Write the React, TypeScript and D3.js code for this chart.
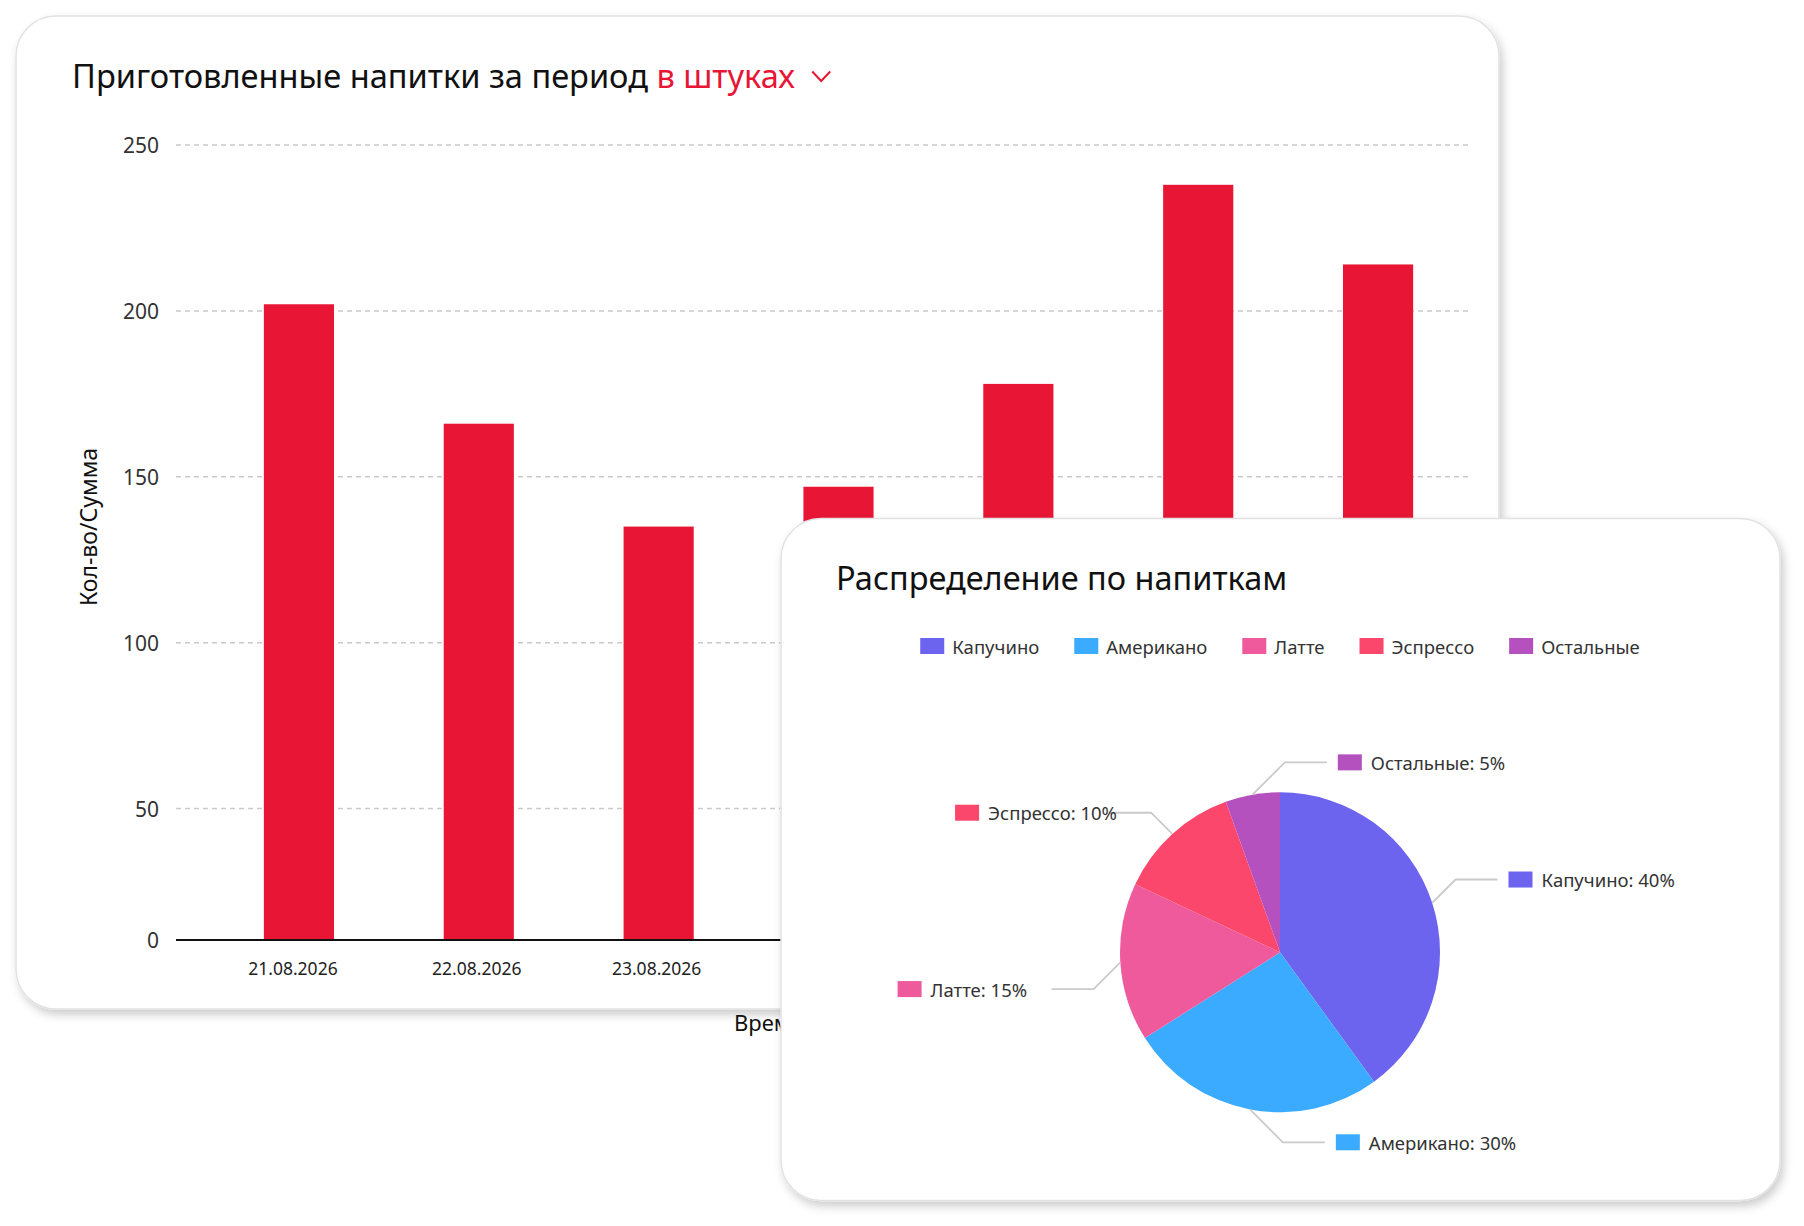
import React, { useEffect, useRef } from "react";
import * as d3 from "d3";

// ---------- data ----------
const dates = [
  "21.08.2026",
  "22.08.2026",
  "23.08.2026",
  "24.08.2026",
  "25.08.2026",
  "26.08.2026",
  "27.08.2026",
];
const drinksMade = [202, 166, 135, 147, 178, 238, 214];
const yTicks = [0, 50, 100, 150, 200, 250];

const drinkNames = ["Капучино", "Американо", "Латте", "Эспрессо", "Остальные"];
const drinkShares = [40, 26, 16, 12.5, 5.5];
const drinkShareLabels = ["40%", "30%", "15%", "10%", "5%"];

const barTitle = "Приготовленные напитки за период ";
const barTitleUnit = "в штуках";
const yTitle = "Кол-во/Сумма";
const xTitle = "Время";
const pieTitle = "Распределение по напиткам";

// ---------- styles ----------
const RED = "#E81534";
const PIE_COLORS = ["#6C63EF", "#3BABFF", "#EE5A9B", "#FB476C", "#B551BE"];
const FONT = "'Noto Sans', 'Open Sans', sans-serif";
const SMALL = 18.5;

export default function App() {
  const ref = useRef<SVGSVGElement>(null);

  useEffect(() => {
    const svg = d3.select(ref.current as SVGSVGElement);
    svg.selectAll("*").remove();

    const defs = svg.append("defs");
    const f = defs
      .append("filter")
      .attr("id", "cardShadow")
      .attr("x", "-5%")
      .attr("y", "-5%")
      .attr("width", "112%")
      .attr("height", "115%");
    f.append("feDropShadow")
      .attr("dx", 3)
      .attr("dy", 5)
      .attr("stdDeviation", 5)
      .attr("flood-color", "#000")
      .attr("flood-opacity", 0.2);

    // ================= Card 1 : bar chart =================
    const c1 = { x: 16, y: 16, w: 1483, h: 993 };
    svg
      .append("rect")
      .attr("x", c1.x)
      .attr("y", c1.y)
      .attr("width", c1.w)
      .attr("height", c1.h)
      .attr("rx", 40)
      .attr("fill", "#fff")
      .attr("stroke", "#e2e2e5")
      .attr("stroke-width", 1.5)
      .attr("filter", "url(#cardShadow)");

    const g1 = svg.append("g").attr("font-family", FONT);

    const title = g1
      .append("text")
      .attr("x", 72)
      .attr("y", 88)
      .attr("font-size", 32.6)
      .attr("fill", "#111")
      .style("white-space", "pre");
    title.append("tspan").text(barTitle);
    title.append("tspan").attr("fill", RED).text(barTitleUnit);
    const tb = (title.node() as SVGTextElement).getBBox();
    const chev = tb.x + tb.width + 17;
    g1.append("path")
      .attr("d", `M${chev},71.5 L${chev + 9},81 L${chev + 18},71.5`)
      .attr("fill", "none")
      .attr("stroke", RED)
      .attr("stroke-width", 2);

    const plotLeft = 176;
    const plotRight = 1468;
    const x = d3
      .scaleBand<string>()
      .domain(dates)
      .range([209, plotRight])
      .paddingInner(0.61)
      .paddingOuter(0.305);
    const y = d3.scaleLinear().domain([0, 50, 250]).range([940, 808.6, 145]);

    // grid
    g1.selectAll("line.grid")
      .data(yTicks.filter((t) => t > 0))
      .join("line")
      .attr("class", "grid")
      .attr("x1", plotLeft)
      .attr("x2", plotRight)
      .attr("y1", (d) => y(d))
      .attr("y2", (d) => y(d))
      .attr("stroke", "#c9c9c9")
      .attr("stroke-width", 1.5)
      .attr("stroke-dasharray", "5,4");

    // y tick labels
    g1.selectAll("text.ytick")
      .data(yTicks)
      .join("text")
      .attr("class", "ytick")
      .attr("x", 159)
      .attr("y", (d) => y(d) + 8)
      .attr("text-anchor", "end")
      .attr("font-size", 21)
      .attr("fill", "#333")
      .text((d) => String(d));

    // bars
    g1.selectAll("rect.bar")
      .data(drinksMade)
      .join("rect")
      .attr("class", "bar")
      .attr("x", (_, i) => x(dates[i]) as number)
      .attr("y", (d) => y(d))
      .attr("width", x.bandwidth())
      .attr("height", (d) => y(0) - y(d))
      .attr("fill", RED);

    // x axis line
    g1.append("line")
      .attr("x1", plotLeft)
      .attr("x2", plotRight)
      .attr("y1", y(0))
      .attr("y2", y(0))
      .attr("stroke", "#111")
      .attr("stroke-width", 2);

    // x tick labels
    g1.selectAll("text.xtick")
      .data(dates)
      .join("text")
      .attr("class", "xtick")
      .attr("x", (d, i) => (x(d) as number) + x.bandwidth() / 2 - (i === 0 ? 6 : 2))
      .attr("y", 975)
      .attr("text-anchor", "middle")
      .attr("font-size", 17.5)
      .attr("fill", "#222")
      .text((d) => d);

    // y title
    g1.append("text")
      .attr("transform", "translate(96.5,527) rotate(-90)")
      .attr("text-anchor", "middle")
      .attr("font-size", 23)
      .attr("fill", "#111")
      .text(yTitle);

    // x title (partly hidden by the second card)
    svg
      .append("text")
      .attr("font-family", FONT)
      .attr("x", 734)
      .attr("y", 1031)
      .attr("font-size", 22)
      .attr("fill", "#111")
      .text(xTitle);

    // ================= Card 2 : pie chart =================
    const c2 = { x: 781, y: 518.5, w: 999, h: 682 };
    svg
      .append("rect")
      .attr("x", c2.x)
      .attr("y", c2.y)
      .attr("width", c2.w)
      .attr("height", c2.h)
      .attr("rx", 40)
      .attr("fill", "#fff")
      .attr("stroke", "#e2e2e5")
      .attr("stroke-width", 1.5)
      .attr("filter", "url(#cardShadow)");

    const g2 = svg.append("g").attr("font-family", FONT);
    g2.append("text")
      .attr("x", 836)
      .attr("y", 590)
      .attr("font-size", 32.5)
      .attr("fill", "#111")
      .text(pieTitle);

    const pcx = 1280;
    const pcy = 952.3;
    const R = 160;

    // legend
    const legend = g2.append("g");
    const items = drinkNames.map((name, i) => {
      const gi = legend.append("g");
      gi.append("rect")
        .attr("x", 0)
        .attr("y", 638)
        .attr("width", 24)
        .attr("height", 16)
        .attr("fill", PIE_COLORS[i]);
      const t = gi
        .append("text")
        .attr("x", 32)
        .attr("y", 654)
        .attr("font-size", SMALL)
        .attr("fill", "#333")
        .text(name);
      const w = (t.node() as SVGTextElement).getComputedTextLength();
      return { gi, width: 32 + w };
    });
    const gap = 35;
    const total =
      items.reduce((s, it) => s + it.width, 0) + gap * (items.length - 1);
    let lx = pcx - total / 2;
    items.forEach((it) => {
      it.gi.attr("transform", `translate(${lx},0)`);
      lx += it.width + gap;
    });

    // pie
    const pie = d3
      .pie<number>()
      .sort(null)
      .value((d) => d)(drinkShares);
    const arc = d3.arc<d3.PieArcDatum<number>>().innerRadius(0).outerRadius(R);
    const pg = g2.append("g").attr("transform", `translate(${pcx},${pcy})`);
    pg.selectAll("path")
      .data(pie)
      .join("path")
      .attr("d", arc)
      .attr("fill", (_, i) => PIE_COLORS[i]);

    // data labels with crooked connectors:
    // 45° segment from slice edge out to radius R + 30, then horizontal
    const elbowR = R + 30;
    const horiz = 42;
    pie.forEach((p, i) => {
      const mid = (p.startAngle + p.endAngle) / 2;
      const px = Math.sin(mid) * R;
      const py = -Math.cos(mid) * R;
      const right = Math.sin(mid) > -0.3;
      const up = Math.cos(mid) > 0;
      const ux = right ? 1 : -1;
      const uy = up ? -1 : 1;
      // solve |p + t*(ux,uy)| = elbowR
      const a = 2;
      const b = 2 * (px * ux + py * uy);
      const c = px * px + py * py - elbowR * elbowR;
      const t = (-b + Math.sqrt(b * b - 4 * a * c)) / (2 * a);
      const sx = pcx + px;
      const sy = pcy + py;
      const ex = sx + ux * t;
      const ey = sy + uy * t;
      const endX = ex + ux * horiz;
      g2.append("path")
        .attr("d", `M${sx},${sy} L${ex},${ey} L${endX},${ey}`)
        .attr("fill", "none")
        .attr("stroke", "#cacaca")
        .attr("stroke-width", 1.8);
      const sqX = right ? endX + 11 : endX - 154;
      g2.append("rect")
        .attr("x", sqX)
        .attr("y", ey - 8)
        .attr("width", 24)
        .attr("height", 16)
        .attr("fill", PIE_COLORS[i]);
      g2.append("text")
        .attr("x", sqX + 33)
        .attr("y", ey + 7.5)
        .attr("font-size", SMALL)
        .attr("fill", "#333")
        .text(`${drinkNames[i]}: ${drinkShareLabels[i]}`);
    });
  }, []);

  return (
    <div style={{ position: "absolute", left: 0, top: 0 }}>
      <svg
        ref={ref}
        width={1804}
        height={1226}
        style={{ display: "block", background: "#fff" }}
      />
    </div>
  );
}
